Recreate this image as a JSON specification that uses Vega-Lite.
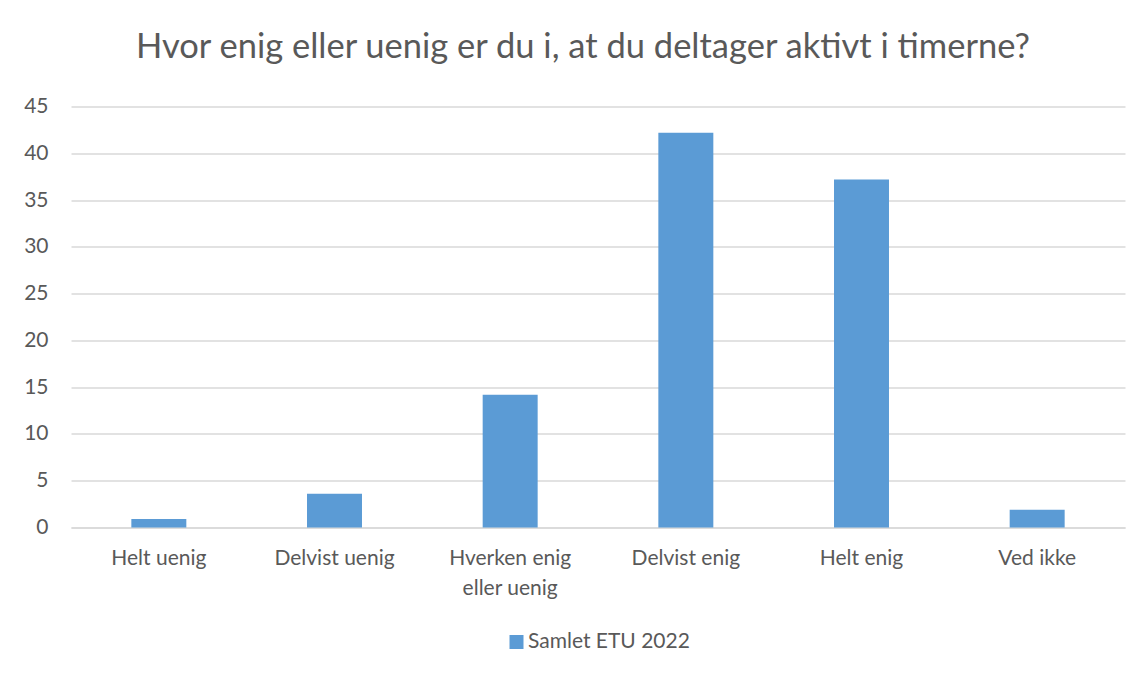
{
  "$schema": "https://vega.github.io/schema/vega-lite/v6.json",
  "autosize": {"type": "none"},
  "width": 1054,
  "height": 421,
  "padding": {"left": 71, "top": 106.5, "right": 20, "bottom": 145.5},
  "background": "white",
  "title": {
    "text": "Hvor enig eller uenig er du i, at du deltager aktivt i timerne?",
    "anchor": "middle",
    "font": "Lato",
    "fontSize": 34.5,
    "fontWeight": "normal",
    "color": "#595959",
    "baseline": "alphabetic",
    "offset": 3,
    "dx": -15
  },
  "data": {
    "values": [
      {"kategori": "Helt uenig", "serie": "Samlet ETU 2022", "procent": 0.9},
      {"kategori": "Delvist uenig", "serie": "Samlet ETU 2022", "procent": 3.6},
      {"kategori": "Hverken enig eller uenig", "serie": "Samlet ETU 2022", "procent": 14.2},
      {"kategori": "Delvist enig", "serie": "Samlet ETU 2022", "procent": 42.2},
      {"kategori": "Helt enig", "serie": "Samlet ETU 2022", "procent": 37.2},
      {"kategori": "Ved ikke", "serie": "Samlet ETU 2022", "procent": 1.9}
    ]
  },
  "mark": {"type": "bar"},
  "encoding": {
    "x": {
      "field": "kategori",
      "type": "nominal",
      "sort": null,
      "scale": {"paddingInner": 0.687, "paddingOuter": 0.3435},
      "axis": {
        "title": null,
        "labelAngle": 0,
        "labelFont": "Lato",
        "labelFontSize": 21,
        "labelColor": "#595959",
        "labelPadding": 20,
        "labelLineHeight": 30,
        "labelExpr": "datum.label == 'Hverken enig eller uenig' ? ['Hverken enig', 'eller uenig'] : datum.label",
        "ticks": false,
        "domain": true,
        "domainColor": "#D9D9D9",
        "domainWidth": 1.5,
        "grid": false
      }
    },
    "y": {
      "field": "procent",
      "type": "quantitative",
      "scale": {"domain": [0, 45], "nice": false},
      "axis": {
        "title": null,
        "values": [0, 5, 10, 15, 20, 25, 30, 35, 40, 45],
        "labelFont": "Lato",
        "labelFontSize": 21,
        "labelColor": "#595959",
        "labelPadding": 23,
        "ticks": false,
        "domain": false,
        "grid": true,
        "gridColor": "#D9D9D9",
        "gridWidth": 1.5
      }
    },
    "color": {
      "field": "serie",
      "type": "nominal",
      "scale": {"range": ["#5B9BD5"]},
      "legend": {
        "title": null,
        "orient": "bottom",
        "direction": "horizontal",
        "symbolType": "square",
        "symbolSize": 196,
        "symbolStrokeWidth": 0,
        "labelFont": "Lato",
        "labelFontSize": 21,
        "labelColor": "#595959",
        "labelOffset": 1,
        "labelLimit": 400,
        "offset": 33
      }
    }
  },
  "config": {
    "view": {"stroke": null},
    "legend": {"layout": {"bottom": {"anchor": "middle"}}}
  }
}
